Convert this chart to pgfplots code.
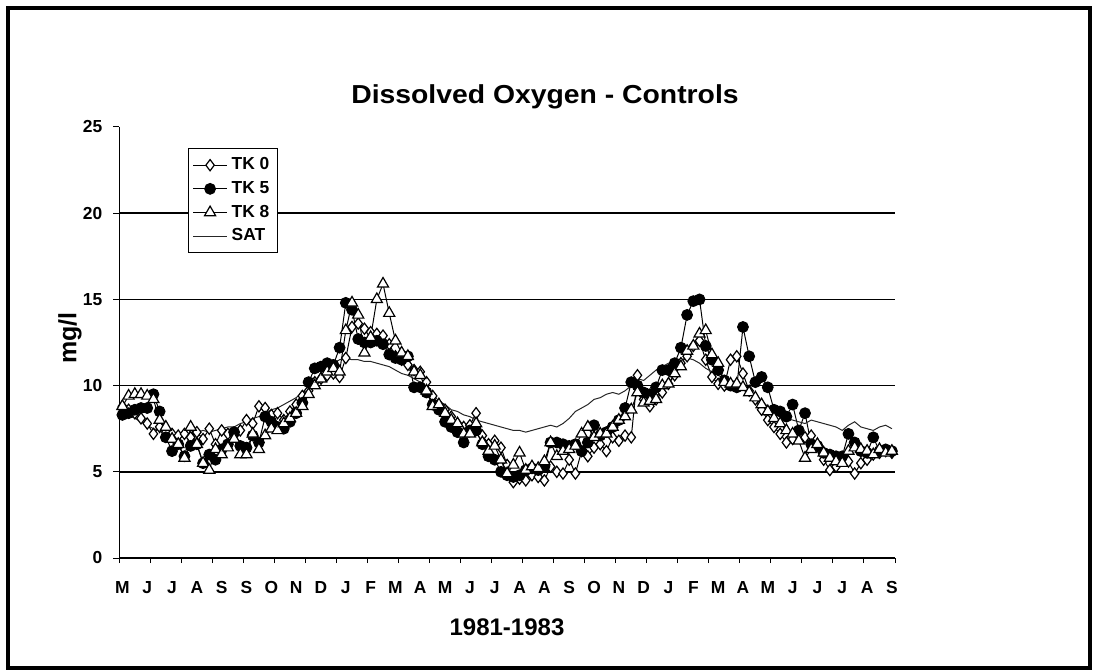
\documentclass[border=0pt]{standalone}
\usepackage{fontspec}
\setmainfont{Liberation Sans}
\usepackage{pgfplots}
\usepackage{pgfplotstable}
\pgfplotsset{compat=1.18}

% weekly readings, May 1981 - Sep 1983 (week index, mg/l)
\pgfplotstableread{
w tk0 tk5 tk8 sat
1 8.8 8.3 8.8 8.4
2 8.6 8.4 9.4 8.3
3 8.4 8.6 9.5 8.1
4 8.1 8.7 9.5 7.9
5 7.8 8.7 9.4 7.7
6 7.2 9.5 9.2 7.5
7 7.6 8.5 8.0 7.4
8 7.3 7.0 7.6 7.3
9 7.2 6.2 6.9 7.3
10 7.1 6.6 6.6 7.2
11 7.2 5.9 5.8 7.3
12 7.0 6.5 7.6 7.2
13 7.3 6.6 6.6 7.3
14 6.9 5.5 5.5 7.4
15 7.5 6.0 5.1 7.3
16 6.6 5.7 6.3 7.4
17 7.4 6.3 6.0 7.5
18 7.2 6.6 6.4 7.6
19 7.1 7.3 6.9 7.6
20 7.4 6.5 6.0 7.8
21 8.0 6.4 6.0 7.9
22 7.8 7.1 7.2 8.1
23 8.8 6.7 6.3 8.2
24 8.7 8.2 7.1 8.4
25 8.3 7.9 7.5 8.6
26 8.4 7.6 7.4 8.7
27 8.0 7.5 7.8 8.9
28 8.5 7.9 8.1 9.1
29 8.9 8.4 8.4 9.3
30 9.4 9.0 8.8 9.6
31 9.7 10.2 9.5 9.9
32 10.2 11.0 10.0 10.2
33 10.4 11.1 10.4 10.6
34 10.6 11.3 10.8 11.0
35 10.7 11.2 11.0 11.3
36 10.5 12.2 10.8 11.5
37 11.6 14.8 13.2 11.6
38 13.4 14.4 14.8 11.5
39 13.6 12.7 14.1 11.5
40 13.3 12.5 11.9 11.4
41 13.1 12.5 12.8 11.4
42 13.0 12.6 15.0 11.3
43 12.9 12.4 15.9 11.2
44 12.4 11.8 14.2 11.1
45 11.7 11.6 12.6 10.9
46 11.5 11.5 11.9 10.7
47 11.2 11.7 11.7 10.6
48 10.9 9.9 10.8 10.4
49 10.8 9.9 10.6 10.2
50 10.2 9.6 9.7 9.8
51 9.4 8.9 8.8 9.5
52 8.9 8.6 8.9 9.1
53 8.6 7.9 8.4 8.9
54 8.2 7.6 8.0 8.6
55 7.8 7.3 7.8 8.5
56 7.6 6.7 7.2 8.3
57 7.7 7.4 7.2 8.2
58 8.4 7.4 7.8 8.0
59 7.1 6.6 6.7 7.9
60 6.6 5.9 6.2 7.8
61 6.8 5.7 6.5 7.7
62 6.4 5.0 5.7 7.6
63 5.4 4.8 4.9 7.5
64 4.4 4.7 5.4 7.4
65 4.6 4.8 6.1 7.4
66 4.5 5.1 5.1 7.3
67 4.8 5.2 5.3 7.4
68 4.7 5.1 5.2 7.5
69 4.5 5.3 5.6 7.6
70 5.3 6.7 6.7 7.7
71 5.0 6.7 5.9 7.6
72 4.9 6.6 6.2 7.8
73 5.7 6.5 6.3 8.1
74 4.9 6.6 6.5 8.5
75 6.2 6.2 7.2 8.7
76 5.9 6.7 7.6 8.9
77 6.4 7.7 7.0 9.2
78 6.6 7.1 7.2 9.3
79 6.2 7.3 7.2 9.5
80 7.0 7.6 7.6 9.6
81 6.8 8.0 8.0 9.5
82 7.1 8.7 8.2 9.7
83 7.0 10.2 8.6 10.0
84 10.6 10.0 9.6 10.4
85 9.2 9.6 9.0 10.3
86 8.8 9.5 9.1 10.6
87 9.2 9.9 9.2 10.9
88 9.6 10.9 10.0 11.1
89 10.1 10.9 10.1 11.3
90 10.6 11.3 10.7 11.4
91 11.3 12.2 11.1 11.5
92 11.7 14.1 12.0 11.6
93 12.3 14.9 12.3 11.5
94 12.6 15.0 13.0 11.3
95 11.5 12.3 13.2 11.0
96 10.5 11.5 11.8 10.8
97 10.1 10.9 11.3 10.6
98 10.0 10.3 10.2 10.4
99 11.5 10.0 10.1 10.3
100 11.7 9.9 10.1 10.2
101 10.7 13.4 9.9 10.0
102 9.7 11.7 9.6 9.7
103 9.2 10.2 9.3 9.4
104 8.6 10.5 8.9 9.1
105 8.0 9.9 8.5 8.8
106 7.6 8.6 8.1 8.5
107 7.2 8.5 7.8 8.3
108 6.7 8.2 7.4 8.1
109 6.9 8.9 7.2 8.0
110 7.1 7.4 6.8 7.9
111 7.0 8.4 5.8 7.8
112 7.1 6.6 6.3 8.0
113 6.5 6.5 6.6 7.9
114 5.7 6.1 6.1 7.8
115 5.1 6.0 5.8 7.7
116 5.3 5.9 5.6 7.6
117 5.7 5.9 5.5 7.4
118 5.6 7.2 6.2 7.7
119 4.9 6.7 6.4 7.9
120 5.5 6.2 6.3 7.6
121 5.7 6.1 6.2 7.5
122 6.0 7.0 6.0 7.4
123 6.1 6.2 6.3 7.6
124 6.2 6.3 6.1 7.7
125 6.1 6.2 6.2 7.5
}\dotable

\begin{document}
\begin{tikzpicture}
\useasboundingbox (0,0) rectangle (547pt,335.5pt);
\draw[line width=2pt] (4pt,1.5pt) rectangle (545pt,331.5pt);

\begin{axis}[
  at={(59.65pt,56.5pt)}, anchor=south west,
  scale only axis, width=387.85pt, height=215.5pt,
  xmin=0.5, xmax=125.5, ymin=0, ymax=25,
  axis x line*=bottom, axis y line*=left,
  axis line style={-, line width=0.6pt},
  tick align=outside,
  ytick={0,5,...,25},
  xtick={1,5,...,125},
  xticklabels={M,J,J,A,S,S,O,N,D,J,F,M,A,M,J,J,A,A,S,O,N,D,J,F,M,A,M,J,J,J,A,S},
  major x tick style={draw=none},
  minor xtick={0.5,5.5,...,125.5},
  minor x tick style={black, line width=0.5pt},
  major tick length=3pt, minor tick length=2.5pt,
  tick style={black, line width=0.5pt},
  extra y ticks={5,10,15,20}, extra y tick labels={},
  extra y tick style={grid=major, major tick length=0pt},
  grid style={black, line width=0.7pt},
  ticklabel style={font=\bfseries\fontsize{8.7}{10}\selectfont},
  xticklabel style={yshift=-5pt},
  yticklabel style={xshift=-2pt},
  /pgf/number format/assume math mode=true,
  legend cell align=left,
  legend style={at={(0.0886,0.951)}, anchor=north west, draw=black,
    line width=0.5pt, font=\bfseries\fontsize{8.7}{10}\selectfont,
    row sep=0.3pt, inner xsep=2pt, inner ysep=2.5pt},
]
\addplot[black, line width=0.5pt, mark=diamond*, mark size=2.8pt,
  mark options={fill=white, draw=black, line width=0.6pt}]
  table[x=w, y=tk0] {\dotable};
\addlegendentry{TK 0}
\addplot[black, line width=0.5pt, mark=*, mark size=2.7pt,
  mark options={fill=black}]
  table[x=w, y=tk5] {\dotable};
\addlegendentry{TK 5}
\addplot[black, line width=0.5pt, mark=triangle*, mark size=3.2pt,
  mark options={fill=white, draw=black, line width=0.6pt}]
  table[x=w, y=tk8] {\dotable};
\addlegendentry{TK 8}
\addplot[black!85, line width=0.5pt, no marks]
  table[x=w, y=sat] {\dotable};
\addlegendentry{SAT}
\end{axis}

\node[font=\bfseries\fontsize{13}{15}\selectfont, xscale=1.09] at (272.5pt,287pt)
  {Dissolved Oxygen - Controls};
\node[font=\bfseries\fontsize{12}{14}\selectfont] at (253.5pt,22pt) {1981-1983};
\node[font=\bfseries\fontsize{12.5}{14}\selectfont, rotate=90] at (35pt,166.5pt) {mg/l};
\end{tikzpicture}
\end{document}
